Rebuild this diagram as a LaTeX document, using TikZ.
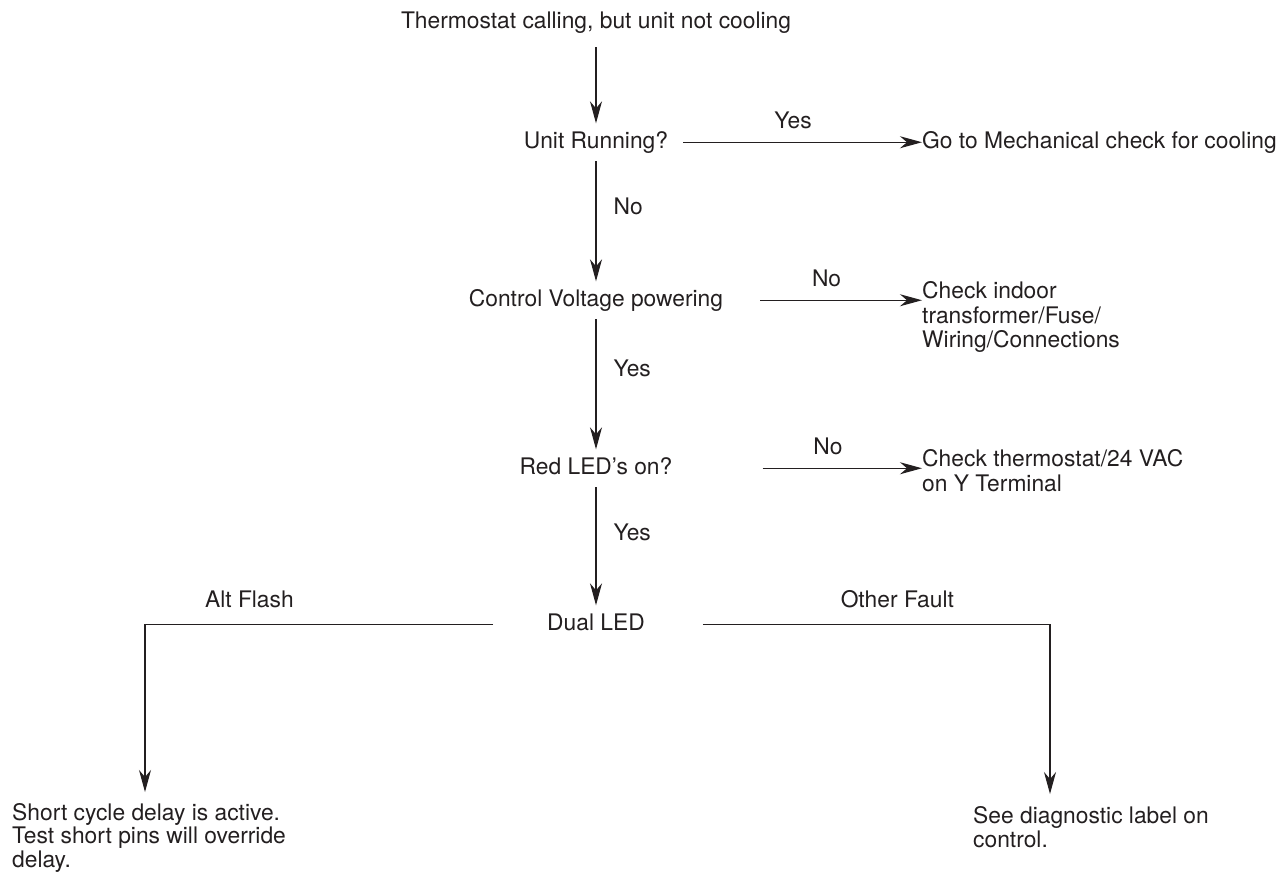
\documentclass[tikz,border=0pt]{standalone}
\usepackage{fontspec}
\setmainfont{TeX Gyre Heros}
\usepackage{xcolor}
\usetikzlibrary{arrows.meta}
\definecolor{ink}{HTML}{231F20}

\begin{document}
\begin{tikzpicture}[
  x=1pt, y=-1pt,
  font=\fontsize{22.8}{24.5}\selectfont,
  every node/.style={text=ink},
  query/.style={anchor=base, inner xsep=0pt, inner ysep=8pt,
                text height=16.5pt, text depth=5pt},
  outcome/.style={align=left, inner sep=0pt, anchor=north west},
  tag/.style={inner sep=0pt, text height=16.5pt, text depth=5pt},
  arr/.style={draw=ink, line width=1.2pt, -{Stealth[length=22pt, width=12pt, inset=7pt]}},
]
\useasboundingbox (0,0) rectangle (1288,873);

\node[query] (start) at (596,28) {Thermostat calling, but unit not cooling};
\node[query] (unit) at (596,148) {Unit Running?};
\node[query] (power) at (596,306) {Control Voltage powering};
\node[query] (led) at (596,474) {Red LED’s on?};
\node[query] (dual) at (596,630) {Dual LED};

\node[outcome, anchor=base west] (mech) at (922,148) {Go to Mechanical check for cooling};
\node[outcome] (wiring) at (922,281.4) {Check indoor\\transformer/Fuse/\\Wiring/Connections};
\node[outcome] (tstat) at (922,449.4) {Check thermostat/24 VAC\\on Y Terminal};
\node[outcome, font=\fontsize{22.8}{23.5}\selectfont] (delay) at (12,803) {Short cycle delay is active.\\Test short pins will override\\delay.};
\node[outcome] (diag) at (973,806) {See diagnostic label on\\control.};

\draw[arr, shorten <=6pt] (start) -- (unit);
\draw[arr] (unit) -- node[tag, right=17pt, pos=0.4]{No} (power);
\draw[arr] (power) -- node[tag, right=17pt, pos=0.4]{Yes} (led);
\draw[arr] (led) -- node[tag, right=17pt, pos=0.4]{Yes} (dual);

\draw[arr] ([xshift=15pt]unit.east) -- node[tag, above=8pt, pos=0.46]{Yes} (unit.east -| mech.west);
\draw[arr] ([xshift=37pt]power.east) -- node[tag, above=8pt, pos=0.41]{No} (power.east -| wiring.west);
\draw[arr] ([xshift=90pt]led.east) -- node[tag, above=8pt, pos=0.41]{No} (led.east -| tstat.west);

\draw[arr] ([xshift=-54pt]dual.west) -| node[tag, above=11pt, pos=0.35]{Alt Flash} ([xshift=133pt, yshift=11pt]delay.north west);
\draw[arr] ([xshift=58pt]dual.east) -| node[tag, above=11pt, pos=0.28]{Other Fault} ([xshift=77pt, yshift=12pt]diag.north west);
\end{tikzpicture}
\end{document}
